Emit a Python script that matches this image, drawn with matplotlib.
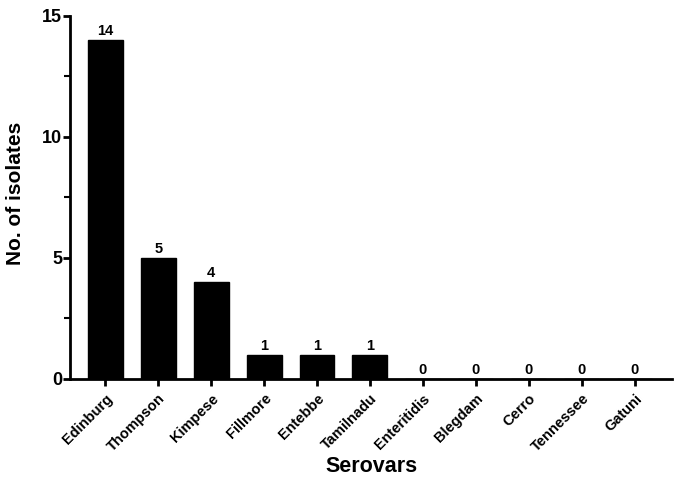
import matplotlib
matplotlib.use("Agg")
import matplotlib.pyplot as plt
from matplotlib.ticker import MultipleLocator

serovars = ["Edinburg", "Thompson", "Kimpese", "Fillmore", "Entebbe", "Tamilnadu",
            "Enteritidis", "Blegdam", "Cerro", "Tennessee", "Gatuni"]
isolates = [14, 5, 4, 1, 1, 1, 0, 0, 0, 0, 0]

plt.rcParams['font.family'] = ['Liberation Sans', 'DejaVu Sans']
plt.rcParams['font.weight'] = 'bold'

fig = plt.figure(figsize=(6.89, 4.94), dpi=100)
ax = fig.add_axes([0.102, 0.233, 0.873, 0.735])

x = list(range(len(serovars)))
ax.bar(x, isolates, width=0.66, color='black', edgecolor='black')
for xi, v in zip(x, isolates):
    ax.text(xi, v + 0.2, str(v), ha='center', va='baseline', fontsize=10.5, fontweight='bold')

ax.set_xlim(-0.66, 10.7)
ax.set_ylim(0, 15)
ax.yaxis.set_major_locator(MultipleLocator(5))
ax.yaxis.set_minor_locator(MultipleLocator(2.5))
ax.set_xticks(x)
ax.set_xticklabels(serovars, rotation=45, ha='right', rotation_mode='anchor',
                   fontsize=10.5, fontweight='bold')
for lab in ax.get_yticklabels():
    lab.set_fontweight('bold')
    lab.set_fontsize(13)

ax.spines['top'].set_visible(False)
ax.spines['right'].set_visible(False)
ax.spines['left'].set_linewidth(2)
ax.spines['bottom'].set_linewidth(2)
ax.tick_params(axis='both', which='major', direction='out', length=5, width=2)
ax.tick_params(axis='y', which='minor', direction='out', length=4, width=1.5)
ax.tick_params(axis='y', which='major', pad=1)
ax.tick_params(axis='x', pad=4)

ax.set_ylabel("No. of isolates", fontsize=15, fontweight='bold')
ax.set_xlabel("Serovars", fontsize=15.5, fontweight='bold')
ax.yaxis.set_label_coords(-0.075, 0.51)
ax.xaxis.set_label_coords(0.5, -0.212)

fig.savefig("out.png", dpi=100)
